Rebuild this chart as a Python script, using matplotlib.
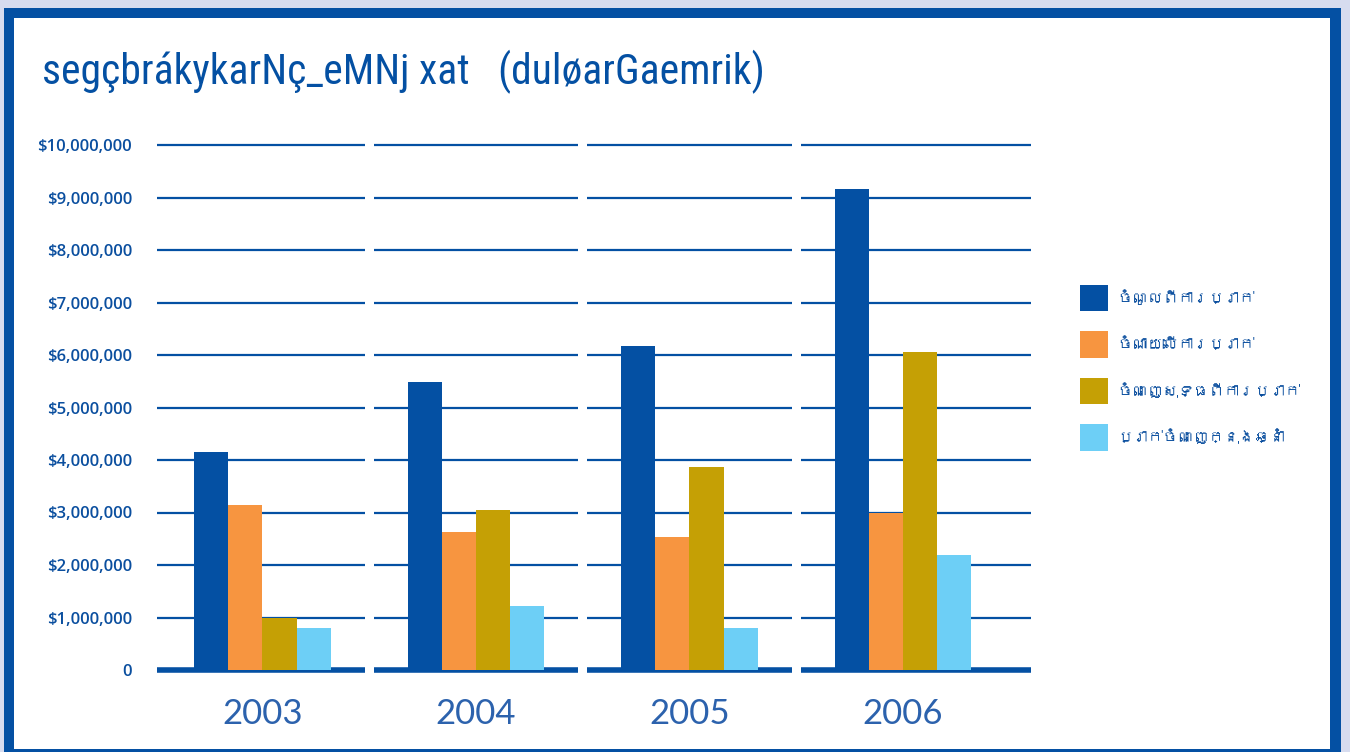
import matplotlib
matplotlib.use("Agg")
import matplotlib.pyplot as plt
from matplotlib import font_manager as fm
from matplotlib.patches import Rectangle
from matplotlib.ft2font import FT2Font

# ---------------- data ----------------
years = ["2003", "2004", "2005", "2006"]
series_names = [
    "ចំណូលពីការប្រាក់",
    "ចំណាយលើការប្រាក់",
    "ចំណេញសុទ្ធពីការប្រាក់",
    "ប្រាក់ចំណេញក្នុងឆ្នាំ",
]
interest_income = [4150000, 5490000, 6170000, 9160000]
interest_expense = [3140000, 2630000, 2530000, 2990000]
net_interest = [1000000, 3050000, 3870000, 6060000]
year_profit = [800000, 1220000, 800000, 2190000]
yticks = [0, 1000000, 2000000, 3000000, 4000000, 5000000,
          6000000, 7000000, 8000000, 9000000, 10000000]
title_text = "segçbrákykarNç_eMNj xat   (duløarGaemrik)"

colors = ["#0450a3", "#f79540", "#c5a005", "#6dcff6"]
BLUE = "#0450a3"
TEXT_BLUE = "#0b4f9f"

# ---------------- fonts ----------------
available = {f.name for f in fm.fontManager.ttflist}

def pick(cands, default="DejaVu Sans"):
    for c in cands:
        if c in available:
            return c
    return default

narrow = pick(["Liberation Sans Narrow", "Roboto Condensed", "DejaVu Sans Condensed", "Liberation Sans"])
light = pick(["Lato", "Open Sans", "Roboto"])
semi = pick(["Open Sans", "Noto Sans", "DejaVu Sans"])

# look for any font with Khmer glyphs
khmer_font = None
for f in fm.fontManager.ttflist:
    try:
        ft = FT2Font(f.fname)
        if 0x1785 in ft.get_charmap():
            khmer_font = f.name
            break
    except Exception:
        pass
khmer_family = ([khmer_font] if khmer_font else []) + ["Noto Sans", "DejaVu Sans"]

# ---------------- figure ----------------
W, H = 1350, 752
fig = plt.figure(figsize=(W / 100, H / 100), dpi=100)
fig.patch.set_facecolor("#d7dcef")

def px_rect(x0, y0, x1, y1, color, z):
    fig.patches.append(Rectangle((x0 / W, 1 - y1 / H), (x1 - x0) / W, (y1 - y0) / H,
                                 transform=fig.transFigure, facecolor=color,
                                 edgecolor="none", zorder=z))

px_rect(4, 8, 1341, 760, BLUE, -3)
px_rect(14, 18, 1330, 749, "white", -2)

fig.text(42 / W, 1 - 72 / H, title_text, family=narrow, fontsize=30,
         color=BLUE, va="center", ha="left")

# axes placement in pixels
ax_left, ax_right, ax_top, ax_bottom = 157, 1031, 145, 670
ax = fig.add_axes([ax_left / W, 1 - ax_bottom / H, (ax_right - ax_left) / W,
                   (ax_bottom - ax_top) / H])
ax.set_facecolor("none")
for s in ax.spines.values():
    s.set_visible(False)

n = len(years)
xlim_left, xlim_right = -0.494, 3.6
ax.set_xlim(xlim_left, xlim_right)
ax.set_ylim(0, 10000000)

# segmented gridlines
gap = 0.021
seg_bounds = []
for i in range(n):
    lo = xlim_left if i == 0 else i - 0.5 + gap
    hi = xlim_right if i == n - 1 else i + 0.5 - gap
    seg_bounds.append((lo, hi))
for (lo, hi) in seg_bounds:
    ax.hlines(yticks[1:], lo, hi, color=BLUE, lw=1.6, zorder=1, clip_on=False)
    ax.hlines(0, lo, hi, color=BLUE, lw=4.0, zorder=1, clip_on=False)

bw = 0.16
all_series = [interest_income, interest_expense, net_interest, year_profit]
for k, vals in enumerate(all_series):
    xs = [i + (k - 1.5) * bw for i in range(n)]
    ax.bar(xs, vals, width=bw, color=colors[k], zorder=2, label=series_names[k])

ax.set_yticks(yticks)
ax.set_yticklabels(["0"] + ["${:,}".format(v) for v in yticks[1:]],
                   family=semi, fontweight="semibold", fontsize=12, color=TEXT_BLUE)
ax.set_xticks(range(n))
ax.set_xticklabels(years, family=light, fontweight="normal", fontsize=25, color="#2c62ad")
ax.tick_params(axis="y", length=0, pad=18)
ax.tick_params(axis="x", length=0, pad=20)

leg = fig.legend(*ax.get_legend_handles_labels(), loc="upper left",
                 bbox_to_anchor=(1066 / W, 1 - 271 / H),
                 frameon=False,
                 handlelength=1.85, handleheight=2.3, handletextpad=0.6,
                 labelspacing=1.3, prop={"family": khmer_family, "size": 11})
for t in leg.get_texts():
    t.set_color(TEXT_BLUE)

fig.savefig("out.png", dpi=100)
